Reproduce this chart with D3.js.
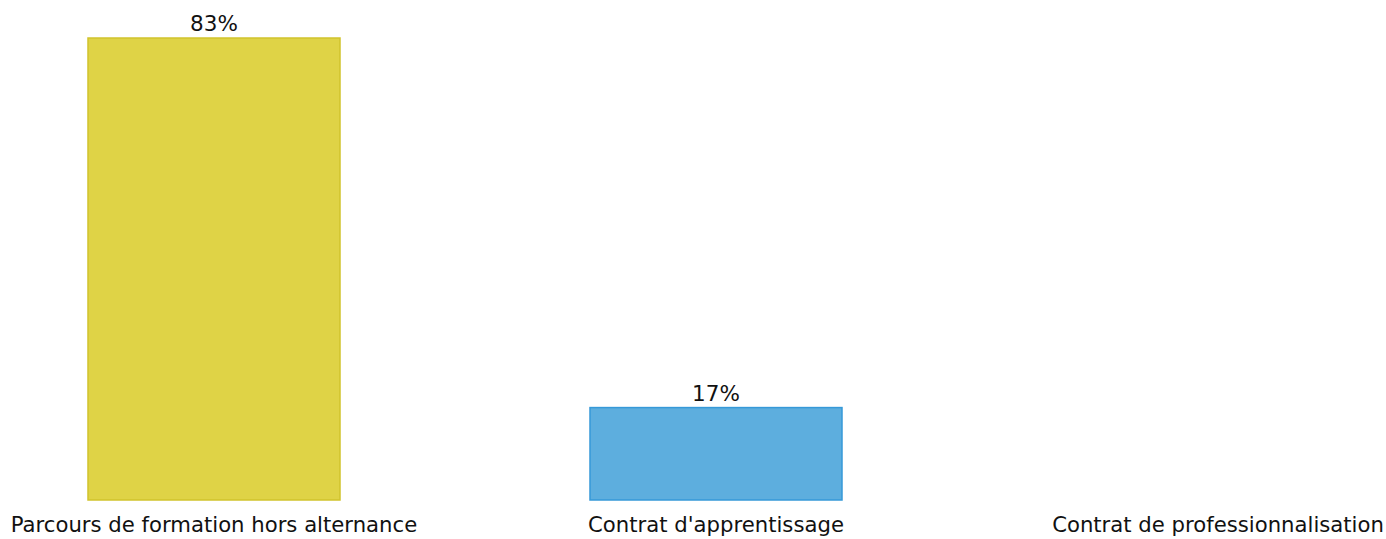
<!DOCTYPE html>
<html>
<head>
<meta charset="utf-8">
<script src="https://cdn.jsdelivr.net/npm/d3@7"></script>
<style>
  body { margin: 0; background: #fff; }
  text { font-family: "DejaVu Sans", sans-serif; fill: #111; }
</style>
</head>
<body>
<div id="chart"></div>
<script>
const categories = ["Parcours de formation hors alternance", "Contrat d'apprentissage", "Contrat de professionnalisation"];
const values = [83.33, 16.67, 0];
const fills = ["#DFD346", "#5DAEDE", "#999999"];
const strokes = ["#D1C32C", "#3699D8", "#888888"];

const width = 1386, height = 539;
const base = 500;

const svg = d3.select("#chart").append("svg")
    .attr("width", width)
    .attr("height", height);

const xScale = d3.scalePoint().domain(categories).range([214, 1218]);
const barW = xScale.step() * 0.502;
const yScale = d3.scaleLinear().domain([0, 83.33]).range([base, 38]);

const data = categories.map((c, i) => ({cat: c, v: values[i], fill: fills[i], stroke: strokes[i]}));

svg.selectAll("rect.bar")
    .data(data.filter(d => d.v > 0))
    .join("rect")
        .attr("class", "bar")
        .attr("x", d => xScale(d.cat) - barW / 2)
        .attr("y", d => yScale(d.v))
        .attr("width", barW)
        .attr("height", d => yScale(0) - yScale(d.v))
        .attr("fill", d => d.fill)
        .attr("stroke", d => d.stroke)
        .attr("stroke-width", 1.5)

svg.selectAll("text.val")
    .data(data.filter(d => d.v > 0))
    .join("text")
        .attr("class", "val")
        .attr("x", d => xScale(d.cat))
        .attr("y", d => yScale(d.v) - 7)
        .attr("text-anchor", "middle")
        .attr("font-size", "21.5px")
        .text(d => Math.round(d.v) + "%")

svg.selectAll("text.cat")
    .data(data)
    .join("text")
        .attr("class", "cat")
        .attr("x", d => xScale(d.cat))
        .attr("y", 532)
        .attr("text-anchor", "middle")
        .attr("font-size", "21.2px")
        .text(d => d.cat)
</script>
</body>
</html>
